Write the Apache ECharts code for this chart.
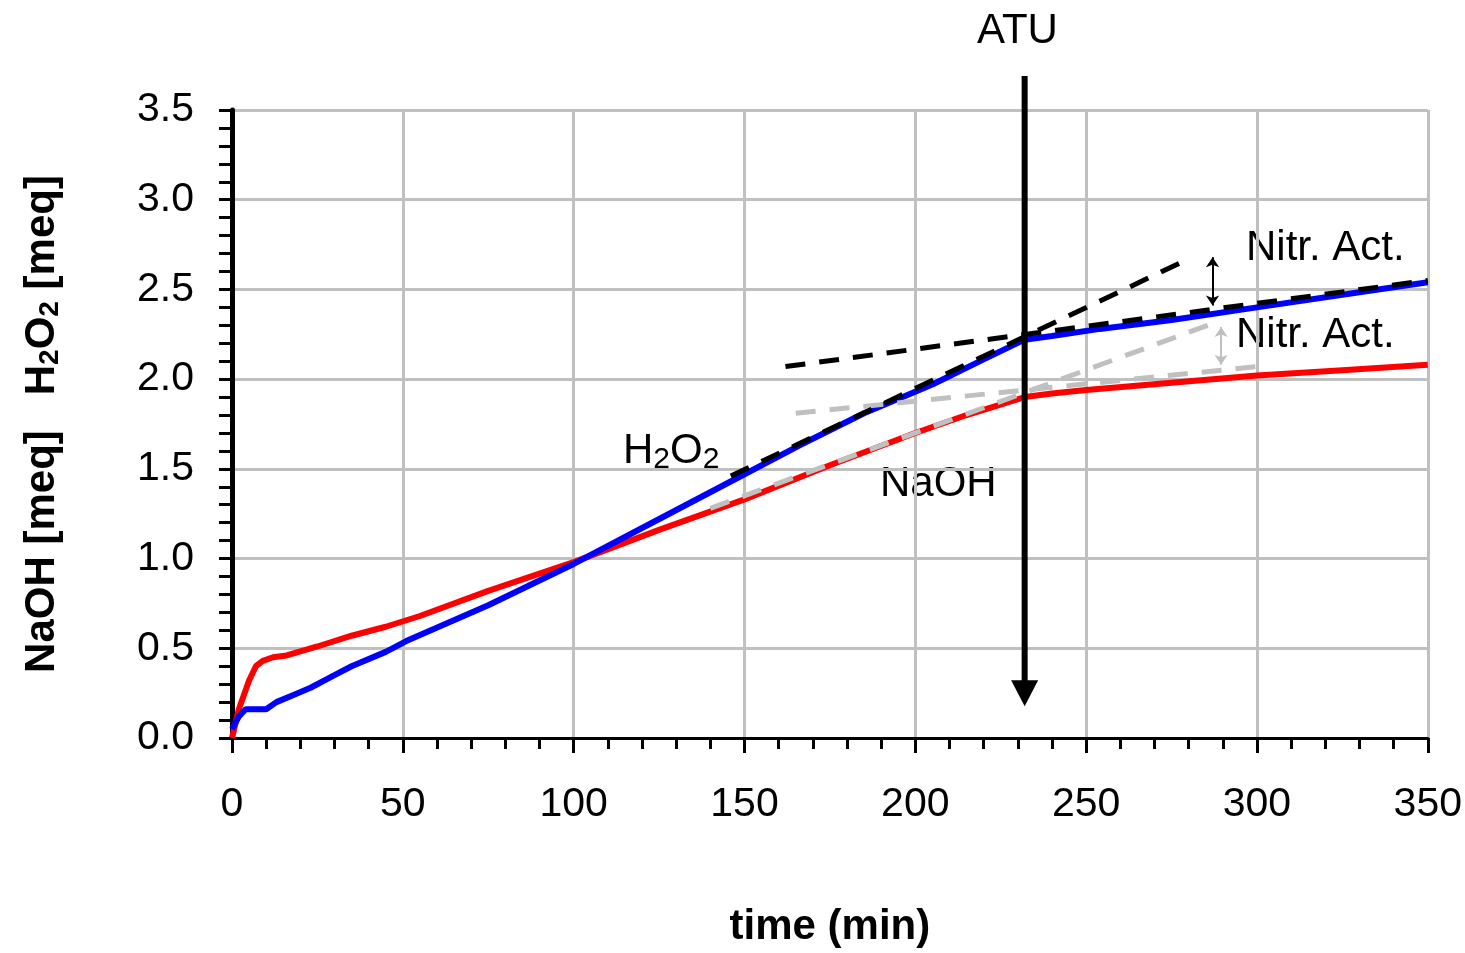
<!DOCTYPE html>
<html>
<head>
<meta charset="utf-8">
<script src="https://cdn.jsdelivr.net/npm/echarts@6/dist/echarts.min.js"></script>
<style>
html,body{margin:0;padding:0;background:#fff;}
#chart{width:1465px;height:953px;}
</style>
</head>
<body>
<div id="chart"></div>
<script>
// measured curves
var naohTime = [0, 2, 5, 7, 9, 12, 16, 25, 35, 45, 55, 75, 100, 125, 150, 175, 200, 215, 232, 240, 250, 275, 300, 325, 350];
var naohMeq  = [0, 0.16, 0.32, 0.40, 0.43, 0.45, 0.46, 0.51, 0.57, 0.62, 0.68, 0.82, 0.98, 1.16, 1.33, 1.52, 1.70, 1.80, 1.90, 1.92, 1.94, 1.98, 2.02, 2.05, 2.08];
var h2o2Time = [0, 2, 4, 10, 13, 18, 23, 30, 35, 45, 51, 75, 100, 127, 150, 166, 185, 205, 220, 232, 240, 254, 275, 300, 325, 350];
var h2o2Meq  = [0.05, 0.12, 0.16, 0.16, 0.20, 0.24, 0.28, 0.35, 0.40, 0.48, 0.54, 0.74, 0.97, 1.24, 1.47, 1.63, 1.81, 1.97, 2.11, 2.22, 2.24, 2.28, 2.33, 2.40, 2.47, 2.54];

// dashed trend lines (before ATU extended / after ATU)
var h2o2TrendTime = [146, 280];
var h2o2Trend     = [1.46, 2.67];
var h2o2AtuTime   = [162, 350];
var h2o2Atu       = [2.07, 2.55];
var naohTrendTime = [140, 287];
var naohTrend     = [1.28, 2.31];
var naohAtuTime   = [165, 300];
var naohAtu       = [1.81, 2.07];

// annotations
var atuTime = 232;
var atuArrow = [0.25, 3.69];   // arrow head centre, top of shaft
var nitrH2o2 = {t: 287, y: [2.41, 2.68]};
var nitrNaoh = {t: 289.5, y: [2.08, 2.29]};

var xTicks = {min: 0, max: 350, interval: 50};
var yTicks = {min: 0, max: 3.5, interval: 0.5};

function pairs(xs, ys){
	var out = [];
	for(var i=0;i<xs.length;++i){
		out.push([xs[i], ys[i]]);
	}
	return out;
}

function nitrArrow(a, color){
	return [
		{coord: [a.t, a.y[0]], symbol: 'arrow', symbolSize: [10, 10], lineStyle: {color: color, width: 2, type: 'solid'}},
		{coord: [a.t, a.y[1]], symbol: 'arrow', symbolSize: [10, 10]}
	];
}

var FONT = '"Liberation Sans", Arial, sans-serif';

var myChart = echarts.init(document.getElementById('chart'));

var option = {
	animation: false,
	backgroundColor: '#fff',
	grid: {left: 232, right: 37, top: 110, bottom: 213},
	xAxis: {
		type: 'value',
		min: xTicks.min, max: xTicks.max, interval: xTicks.interval,
		name: 'time (min)',
		nameLocation: 'middle',
		nameGap: 168,
		nameTextStyle: {fontFamily: FONT, fontSize: 42, fontWeight: 'bold', color: '#000'},
		axisLine: {lineStyle: {color: '#000', width: 3}},
		axisTick: {show: true, length: 15, lineStyle: {color: '#000', width: 3}},
		minorTick: {show: true, splitNumber: 5, length: 11, lineStyle: {color: '#000', width: 3}},
		axisLabel: {margin: 46, fontFamily: FONT, fontSize: 41, color: '#000'},
		splitLine: {show: true, lineStyle: {color: '#c0c0c0', width: 3}}
	},
	yAxis: {
		type: 'value',
		min: yTicks.min, max: yTicks.max, interval: yTicks.interval,
		name: '{b|NaOH [meq]   H}{s|2}{b|O}{s|2}{b| [meq]}',
		nameLocation: 'middle',
		nameGap: 168,
		nameTextStyle: {
			rich: {
				b: {fontFamily: FONT, fontSize: 42, fontWeight: 'bold', color: '#000', lineHeight: 44},
				s: {fontFamily: FONT, fontSize: 28, fontWeight: 'bold', color: '#000', lineHeight: 44, verticalAlign: 'bottom'}
			}
		},
		axisLine: {show: true, lineStyle: {color: '#000', width: 5}},
		axisTick: {show: true, length: 13, lineStyle: {color: '#000', width: 3}},
		minorTick: {show: true, splitNumber: 5, length: 13, lineStyle: {color: '#000', width: 3}},
		axisLabel: {
			margin: 38, fontFamily: FONT, fontSize: 41, color: '#000',
			formatter: function(v){ return v.toFixed(1); }
		},
		splitLine: {show: true, lineStyle: {color: '#c0c0c0', width: 3}}
	},
	series: [
		{
			name: 'NaOH', type: 'line', symbol: 'none',
			data: pairs(naohTime, naohMeq),
			lineStyle: {color: '#ff0000', width: 6},
			markLine: {silent: true, label: {show: false}, data: [nitrArrow(nitrNaoh, '#c0c0c0')]}
		},
		{
			name: 'H2O2', type: 'line', symbol: 'none',
			data: pairs(h2o2Time, h2o2Meq),
			lineStyle: {color: '#0000ff', width: 6}
		},
		{
			name: 'NaOH trend', type: 'line', symbol: 'none',
			data: pairs(naohTrendTime, naohTrend),
			lineStyle: {color: '#c0c0c0', width: 5, type: [20, 14]}
		},
		{
			name: 'NaOH after ATU', type: 'line', symbol: 'none',
			data: pairs(naohAtuTime, naohAtu),
			lineStyle: {color: '#c0c0c0', width: 5, type: [20, 14]}
		},
		{
			name: 'H2O2 trend', type: 'line', symbol: 'none',
			data: pairs(h2o2TrendTime, h2o2Trend),
			lineStyle: {color: '#000', width: 5, type: [20, 14]}
		},
		{
			name: 'H2O2 after ATU', type: 'line', symbol: 'none',
			data: pairs(h2o2AtuTime, h2o2Atu),
			lineStyle: {color: '#000', width: 5, type: [20, 14]},
			markLine: {silent: true, label: {show: false}, data: [nitrArrow(nitrH2o2, '#000')]}
		},
		{
			name: 'ATU', type: 'line', clip: false, silent: true,
			data: [
				{value: [atuTime, atuArrow[0]], symbol: 'triangle', symbolSize: [27, 26], symbolRotate: 180},
				{value: [atuTime, atuArrow[1]], symbol: 'none'}
			],
			showSymbol: true,
			itemStyle: {color: '#000'},
			lineStyle: {color: '#000', width: 6}
		}
	],
	graphic: [
		{type: 'text', left: 977, top: 10, style: {text: 'ATU', font: '42px ' + FONT, fill: '#000'}},
		{type: 'text', left: 623, top: 430, style: {
			text: '{a|H}{b|2}{a|O}{b|2}',
			rich: {
				a: {fontFamily: FONT, fontSize: 42, color: '#000', lineHeight: 48},
				b: {fontFamily: FONT, fontSize: 30, color: '#000', lineHeight: 48, verticalAlign: 'bottom'}
			}
		}},
		{type: 'text', left: 880, top: 463, style: {text: 'NaOH', font: '42px ' + FONT, fill: '#000'}},
		{type: 'text', left: 1246, top: 227, style: {text: 'Nitr. Act.', font: '42px ' + FONT, fill: '#000'}},
		{type: 'text', left: 1236, top: 314, style: {text: 'Nitr. Act.', font: '42px ' + FONT, fill: '#000'}}
	]
};

myChart.setOption(option);
</script>
</body>
</html>
